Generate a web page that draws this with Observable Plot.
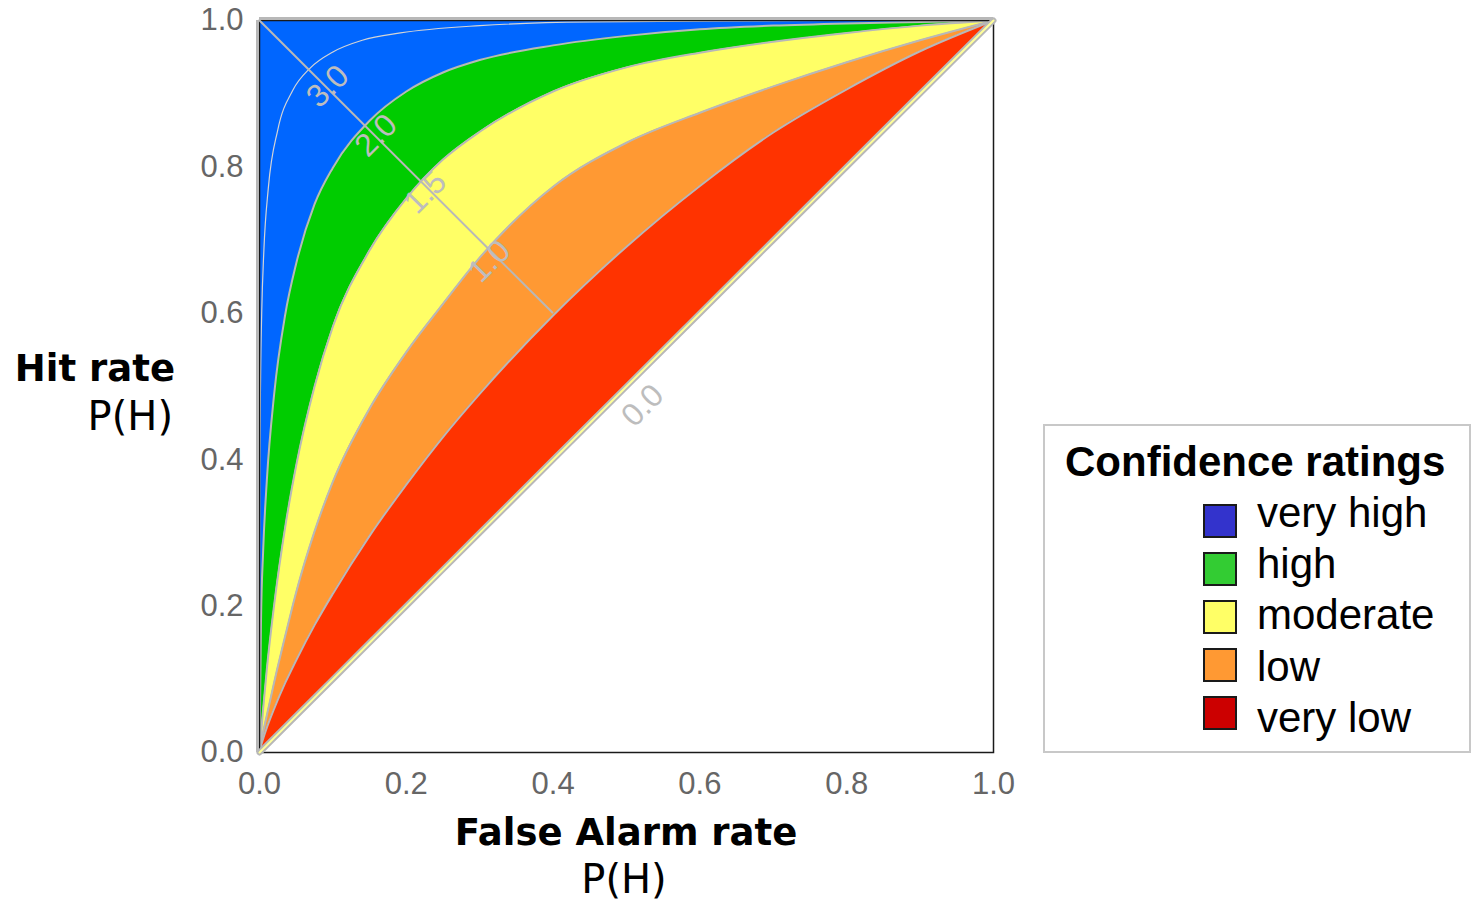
<!DOCTYPE html>
<html>
<head>
<meta charset="utf-8">
<script src="https://cdn.jsdelivr.net/npm/d3@7"></script>
<script src="https://cdn.jsdelivr.net/npm/@observablehq/plot@0.6"></script>
<style>
  body { margin: 0; background: #fff; }
  #wrap { position: relative; width: 1474px; height: 903px; overflow: hidden; background: #fff; }
  #chart { position: absolute; left: 0; top: 0; }
  .ttl { position: absolute; font-family: "DejaVu Sans", sans-serif; font-size: 37px; line-height: 37px; color: #000; white-space: nowrap; }
  .sub { font-size: 40px; line-height: 40px; }
  .b { font-weight: bold; }
  #legend { position: absolute; left: 1043px; top: 424px; width: 428px; height: 329px; box-sizing: border-box; border: 2px solid #c8c8c8; background: #fff; }
  .lg { position: absolute; font-family: "Liberation Sans", Arial, sans-serif; font-size: 42px; line-height: 42px; color: #000; white-space: nowrap; }
  .sw { position: absolute; width: 34px; height: 34px; box-sizing: border-box; border: 2px solid #1a1a1a; }
</style>
</head>
<body>
<div id="wrap">
  <div id="chart"></div>
  <div class="ttl b" style="right:1299px; top:350px;">Hit rate</div>
  <div class="ttl sub" style="right:1301px; top:396px;">P(H)</div>
  <div class="ttl b" style="left:0; width:1252px; text-align:center; top:814px;">False Alarm rate</div>
  <div class="ttl sub" style="left:0; width:1248px; text-align:center; top:859px;">P(H)</div>
  <div id="legend"></div>
</div>
<script>
// ---- data ----
const ratings = ["very high", "high", "moderate", "low", "very low"];
const legendColors = ["#3333cc", "#33cc33", "#ffff66", "#ff9933", "#cc0000"];
const bandColors = ["#0066ff", "#00cc00", "#ffff66", "#ff9933", "#ff3300"];

// false alarm rates at which the band boundaries are read
const falseAlarm = [0, 0.002, 0.005, 0.01, 0.02, 0.035, 0.05, 0.075, 0.1, 0.15, 0.2, 0.25, 0.3, 0.4, 0.5, 0.6, 0.7, 0.8, 0.9, 1];
// hit rate of the lower boundary of each band
const hitVeryHigh = [0, 0.177, 0.276, 0.372, 0.490, 0.598, 0.668, 0.749, 0.799, 0.863, 0.903, 0.929, 0.946, 0.966, 0.979, 0.988, 0.993, 0.996, 0.998, 1];
const hitHigh     = [0, 0.024, 0.060, 0.114, 0.202, 0.308, 0.392, 0.500, 0.582, 0.686, 0.757, 0.810, 0.848, 0.903, 0.936, 0.956, 0.971, 0.983, 0.993, 1];
const hitModerate = [0, 0.012, 0.028, 0.051, 0.096, 0.159, 0.219, 0.302, 0.370, 0.470, 0.547, 0.613, 0.676, 0.773, 0.833, 0.874, 0.910, 0.943, 0.973, 1];
const hitLow      = [0, 0.009, 0.019, 0.034, 0.060, 0.095, 0.126, 0.174, 0.217, 0.296, 0.366, 0.431, 0.490, 0.597, 0.691, 0.774, 0.847, 0.906, 0.958, 1];
const hitVeryLow  = [0, 0.002, 0.005, 0.01, 0.02, 0.035, 0.05, 0.075, 0.1, 0.15, 0.2, 0.25, 0.3, 0.4, 0.5, 0.6, 0.7, 0.8, 0.9, 1];
// d' = 3.0 reference curve
const F_d3 = [0, 0.0001, 0.0005, 0.0015, 0.003, 0.006, 0.012, 0.025, 0.045, 0.069, 0.1, 0.14, 0.192, 0.3, 0.45, 0.601, 0.8, 1];
const H_d3 = [0, 0.236, 0.386, 0.513, 0.6, 0.687, 0.771, 0.851, 0.904, 0.935, 0.957, 0.973, 0.983, 0.993, 0.998, 0.999, 1, 1];
// iso-bias line (negative diagonal)
const F_iso = [0, 0.399];
const H_iso = [1, 0.601];
// d' labels
const dLabels = ["3.0", "2.0", "1.5", "1.0", "0.0"];
const dLabelF = [0.093, 0.159, 0.226, 0.313, 0.522];
const dLabelH = [0.910, 0.843, 0.765, 0.671, 0.474];
// axis ticks
const ticks = [0, 0.2, 0.4, 0.6, 0.8, 1.0];

// ---- build ----
const rows = (F, H) => F.map((f, i) => ({f, h: H[i]}));
const boundaries = [hitVeryLow, hitLow, hitModerate, hitHigh, hitVeryHigh].map(H => rows(falseAlarm, H));
const fillOrder = [bandColors[4], bandColors[3], bandColors[2], bandColors[1], bandColors[0]];
const curveStroke = "#b8b8b8";

const marks = [];
boundaries.forEach((r, i) => {
  marks.push(Plot.areaY(r, {x: "f", y1: "h", y2: 1, fill: fillOrder[i], curve: "monotone-x"}));
});
boundaries.slice(1).forEach(r => {
  marks.push(Plot.line(r, {x: "f", y: "h", stroke: curveStroke, strokeWidth: 2, curve: "monotone-x"}));
});
marks.push(Plot.line(rows(F_d3, H_d3), {x: "f", y: "h", stroke: "#d4d4d4", strokeWidth: 1.2, curve: "monotone-x"}));
marks.push(Plot.frame({stroke: "#1a1a1a", strokeWidth: 1.5}));
marks.push(Plot.line(boundaries[0], {x: "f", y: "h", stroke: curveStroke, strokeWidth: 6}));
marks.push(Plot.line(boundaries[0], {x: "f", y: "h", stroke: "#ffff99", strokeWidth: 2}));
marks.push(Plot.ruleX([0], {y1: 0, y2: 1, stroke: curveStroke, strokeWidth: 3, dx: -2}));
marks.push(Plot.ruleY([1], {x1: 0, x2: 1, stroke: curveStroke, strokeWidth: 3, dy: -2}));
marks.push(Plot.line(rows(F_iso, H_iso), {x: "f", y: "h", stroke: curveStroke, strokeWidth: 2}));
marks.push(Plot.text(dLabels, {
  x: (d, i) => dLabelF[i], y: (d, i) => dLabelH[i], text: d => d,
  rotate: -45, fill: "#bdbdbd", fontSize: 32, fontFamily: "Liberation Sans, Arial, sans-serif"
}));

const chart = Plot.plot({
  width: 1474,
  height: 903,
  marginLeft: 259,
  marginRight: 481,
  marginTop: 20,
  marginBottom: 151,
  x: {domain: [0, 1], ticks: ticks, tickFormat: d3.format(".1f"), tickSize: 0, tickPadding: 19, label: null},
  y: {domain: [0, 1], ticks: ticks, tickFormat: d3.format(".1f"), tickSize: 0, tickPadding: 16, label: null},
  style: {fontFamily: "'Liberation Sans', Arial, sans-serif", fontSize: "31px", color: "#666", background: "transparent", overflow: "visible"},
  marks
});
document.getElementById("chart").appendChild(chart);

// ---- legend ----
const legend = document.getElementById("legend");
const title = document.createElement("div");
title.className = "lg";
title.style.fontWeight = "bold";
title.style.left = "20px";
title.style.top = "15px";
title.textContent = "Confidence ratings";
legend.appendChild(title);
ratings.forEach((r, k) => {
  const sw = document.createElement("div");
  sw.className = "sw";
  sw.style.background = legendColors[k];
  sw.style.left = (1203 - 1045) + "px";
  sw.style.top = (504 + 48 * k - 426) + "px";
  legend.appendChild(sw);
  const t = document.createElement("div");
  t.className = "lg";
  t.style.left = (1257 - 1045) + "px";
  t.style.top = (492 + 51.2 * k - 426) + "px";
  t.textContent = r;
  legend.appendChild(t);
});
</script>
</body>
</html>
